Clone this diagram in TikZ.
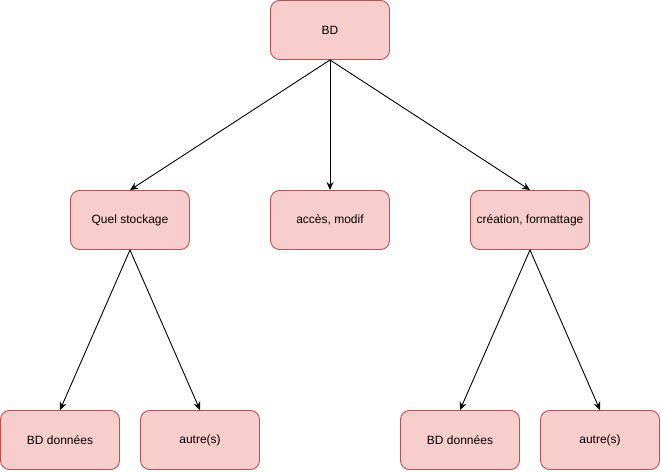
\documentclass[tikz,border=0pt]{standalone}
\usepackage{fontspec}
\setmainfont{Liberation Sans}
\usetikzlibrary{arrows.meta}
\definecolor{boxfill}{HTML}{F8CECC}
\definecolor{boxline}{HTML}{B85450}

\begin{document}
\begin{tikzpicture}[x=1pt,y=-1pt,line width=0.9pt]
\useasboundingbox (0,0) rectangle (661,471);
\begin{scope}[every node/.style={rectangle,rounded corners=9pt,draw=boxline,fill=boxfill,
              minimum width=119pt,minimum height=59pt,font=\fontsize{12}{14}\selectfont}]
    \node (BD) at (330,30) {BD};
    \node (Stock) at (130,220) {Quel stockage};
    \node (Acces) at (330,220) {accès, modif};
    \node (Crea) at (530,220) {création, formattage};
    \node (BDa) at (60,440) {BD données};
    \node (Autra) at (200,440) {autre(s)};
    \node (BDb) at (460,440) {BD données};
    \node (Autrb) at (600,440) {autre(s)};
\end{scope}

\begin{scope}[>={Stealth[length=8pt,width=7pt]},
              every path/.style={draw,->}]
    \path (BD.south) -- (Stock.north);
    \path (BD.south) -- (Acces.north);
    \path (BD.south) -- (Crea.north);
    \path (Stock.south) -- (BDa.north);
    \path (Stock.south) -- (Autra.north);
    \path (Crea.south) -- (BDb.north);
    \path (Crea.south) -- (Autrb.north);
\end{scope}
\end{tikzpicture}
\end{document}
